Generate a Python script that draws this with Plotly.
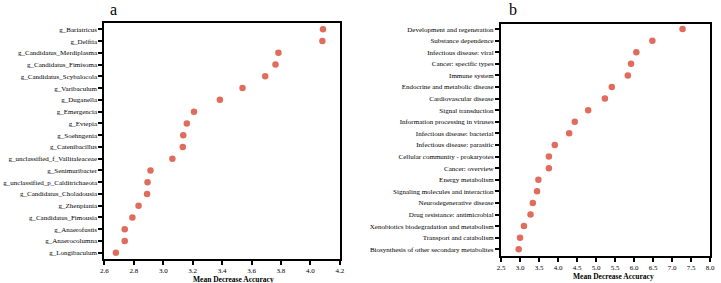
import plotly.graph_objects as go

W, H = 721, 283

genera = [
    "g_Bariatricus", "g_Delftia", "g_Candidatus_Merdiplasma", "g_Candidatus_Fimisoma",
    "g_Candidatus_Scybalocola", "g_Varibaculum", "g_Duganella", "g_Emergencia",
    "g_Evtepia", "g_Soehngenia", "g_Catenibacillus", "g_unclassified_f_Vallitaleaceae",
    "g_Senimuribacter", "g_unclassified_p_Calditrichaeota", "g_Candidatus_Choladousia",
    "g_Zhenpiania", "g_Candidatus_Fimousia", "g_Anaerofustis", "g_Anaerocolumna",
    "g_Longibaculum",
]
genera_mda = [4.086, 4.082, 3.783, 3.763, 3.693, 3.539, 3.385, 3.209, 3.160, 3.136,
              3.133, 3.062, 2.913, 2.893, 2.890, 2.832, 2.790, 2.738, 2.738, 2.678]

pathways = [
    "Development and regeneration", "Substance dependence", "Infectious disease: viral",
    "Cancer: specific types", "Immune system", "Endocrine and metabolic disease",
    "Cardiovascular disease", "Signal transduction", "Information processing in viruses",
    "Infectious disease: bacterial", "Infectious disease: parasitic",
    "Cellular community - prokaryotes", "Cancer: overview", "Energy metabolism",
    "Signaling molecules and interaction", "Neurodegenerative disease",
    "Drug resistance: antimicrobial", "Xenobiotics biodegradation and metabolism",
    "Transport and catabolism", "Biosynthesis of other secondary metabolites",
]
pathways_mda = [7.276, 6.482, 6.06, 5.92, 5.836, 5.414, 5.233, 4.793, 4.44, 4.293,
                3.914, 3.759, 3.759, 3.483, 3.448, 3.336, 3.276, 3.103, 3.0, 2.965]

xticks_a = [2.6, 2.8, 3.0, 3.2, 3.4, 3.6, 3.8, 4.0, 4.2]
xticks_b = [2.5, 3.0, 3.5, 4.0, 4.5, 5.0, 5.5, 6.0, 6.5, 7.0, 7.5, 8.0]

FONT = "Liberation Serif"
MARK = "rgb(224,108,94)"

def px_x(p):
    return p / W

def px_y(p):
    return 1 - p / H

dom_xa = [px_x(101.7), px_x(340)]
dom_ya = [px_y(259), px_y(23.3)]
dom_xb = [px_x(503.3), px_x(715)]
dom_yb = [px_y(256), px_y(24.3)]

fig = go.Figure()
fig.add_trace(go.Scatter(x=genera_mda, y=genera, mode="markers", xaxis="x", yaxis="y",
                         marker=dict(color=MARK, size=6.5), showlegend=False,
                         hoverinfo="skip"))
fig.add_trace(go.Scatter(x=pathways_mda, y=pathways, mode="markers", xaxis="x2", yaxis="y2",
                         marker=dict(color=MARK, size=6.5), showlegend=False,
                         hoverinfo="skip"))

axis_common = dict(showline=True, linecolor="black", linewidth=2, mirror=True,
                   ticks="outside", ticklen=4, tickwidth=2, tickcolor="black",
                   showgrid=False, zeroline=False,
                   tickfont=dict(family=FONT, size=7, color="black"))

fig.update_layout(
    width=W, height=H,
    margin=dict(l=0, r=0, t=0, b=0),
    paper_bgcolor="white", plot_bgcolor="white",
    font=dict(family=FONT, color="black"),
    xaxis=dict(domain=dom_xa, range=[2.6, 4.2], tickvals=xticks_a,
               ticktext=[f"{v:.1f}" for v in xticks_a], anchor="y",
               **axis_common),
    yaxis=dict(domain=dom_ya, type="category",
               categoryorder="array", categoryarray=genera[::-1],
               range=[-0.53, 19.51], anchor="x",
               **axis_common),
    xaxis2=dict(domain=dom_xb, range=[2.5, 8.0], tickvals=xticks_b,
                ticktext=[f"{v:.1f}" for v in xticks_b], anchor="y2",
                **axis_common),
    yaxis2=dict(domain=dom_yb, type="category",
                categoryorder="array", categoryarray=pathways[::-1],
                range=[-0.58, 19.41], anchor="x2",
                **axis_common),
    annotations=[
        dict(text="<b>Mean Decrease Accuracy</b>", x=px_x(232), y=px_y(279), xref="paper", yref="paper",
             showarrow=False, font=dict(family=FONT, size=7.5, color="black"),
             xanchor="center", yanchor="middle"),
        dict(text="<b>Mean Decrease Accuracy</b>", x=px_x(617), y=px_y(276), xref="paper", yref="paper",
             showarrow=False, font=dict(family=FONT, size=7.5, color="black"),
             xanchor="center", yanchor="middle"),
        dict(text="a", x=px_x(111), y=px_y(9), xref="paper", yref="paper",
             showarrow=False, font=dict(family=FONT, size=16, color="black"),
             xanchor="center", yanchor="middle"),
        dict(text="b", x=px_x(515.5), y=px_y(9), xref="paper", yref="paper",
             showarrow=False, font=dict(family=FONT, size=16, color="black"),
             xanchor="center", yanchor="middle"),
    ],
)

fig.write_html(
    "out.html",
    config={"displayModeBar": False},
    post_script="document.body.style.margin='0';document.body.style.padding='0';document.body.style.overflow='hidden';",
)
